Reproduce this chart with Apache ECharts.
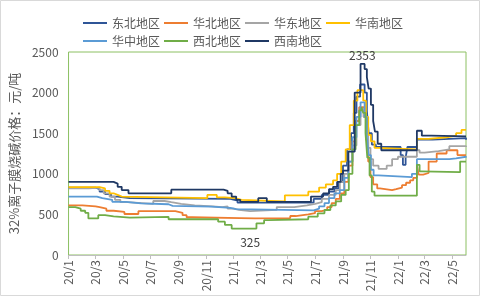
<!DOCTYPE html>
<html>
<head>
<meta charset="utf-8">
<script src="https://cdn.jsdelivr.net/npm/echarts@6/dist/echarts.min.js"></script>
<style>
  html, body { margin: 0; padding: 0; background: #ffffff; }
  #chart { width: 481px; height: 297px; }
</style>
</head>
<body>
<div id="chart"></div>
<script>
// 32% ion-membrane caustic soda prices by region (yuan/ton), change points of each price series.
const regions = ['东北地区', '华北地区', '华东地区', '华南地区', '华中地区', '西北地区', '西南地区'];

const dongbeiDates = ['2020-01-01','2020-03-01','2020-03-10','2020-03-22','2020-04-04','2020-04-19','2020-05-16','2020-12-25','2021-01-10','2021-06-28','2021-07-16','2021-08-01','2021-08-13','2021-08-22','2021-09-01','2021-09-10','2021-09-19','2021-09-25','2021-10-01','2021-10-09','2021-10-19','2021-10-24','2021-10-28','2021-11-04','2021-11-13','2022-01-07','2022-01-12','2022-01-18','2022-01-22','2022-01-27','2022-02-12','2022-03-19','2022-06-01'];
const dongbeiValues = [830,810,780,750,720,700,690,670,645,690,740,780,820,900,1100,1300,1500,1750,1950,2100,2000,1780,1500,1360,1330,1230,1110,1200,1330,1330,1420,1440,1420];

const huabeiDates = ['2020-01-01','2020-02-01','2020-03-01','2020-03-10','2020-03-25','2020-04-10','2020-05-04','2020-06-04','2020-08-25','2020-09-10','2020-09-19','2020-10-01','2021-01-16','2021-02-18','2021-05-07','2021-05-19','2021-06-16','2021-07-01','2021-07-16','2021-07-28','2021-08-07','2021-08-16','2021-08-25','2021-09-04','2021-09-13','2021-09-22','2021-09-29','2021-10-07','2021-10-17','2021-10-22','2021-10-27','2021-11-01','2021-11-07','2021-11-16','2021-11-22','2021-12-19','2021-12-28','2022-01-10','2022-01-19','2022-01-28','2022-02-04','2022-02-12','2022-02-16','2022-02-26','2022-03-10','2022-03-28','2022-04-19','2022-05-13','2022-06-01'];
const huabeiValues = [610,600,590,570,545,530,505,540,520,490,465,455,450,455,480,500,515,540,560,590,640,690,760,900,1100,1400,1650,1820,1700,1420,1150,960,870,820,800,810,830,860,890,920,950,1110,990,1010,1150,1250,1290,1230,1230];

const huadongDates = ['2020-01-01','2020-02-15','2020-03-10','2020-03-19','2020-04-01','2020-04-13','2020-04-25','2020-05-10','2020-07-07','2020-08-01','2020-08-16','2020-09-07','2020-10-07','2020-11-16','2020-12-07','2020-12-19','2021-01-01','2021-01-13','2021-02-07','2021-04-07','2021-05-16','2021-06-13','2021-07-01','2021-07-16','2021-08-01','2021-08-16','2021-08-25','2021-09-04','2021-09-13','2021-09-22','2021-10-01','2021-10-10','2021-10-17','2021-10-22','2021-10-27','2021-11-01','2021-11-07','2021-11-19','2021-12-07','2021-12-19','2022-01-01','2022-02-12','2022-02-18','2022-03-01','2022-04-01','2022-04-25','2022-06-01'];
const huadongValues = [820,830,800,760,720,680,650,630,665,650,630,610,600,590,600,570,555,540,555,590,610,630,650,690,740,800,900,1000,1150,1350,1600,1800,1700,1500,1320,1180,1100,1060,1100,1180,1210,1290,1260,1280,1300,1340,1330];

const huananDates = ['2020-01-01','2020-03-10','2020-03-22','2020-04-01','2020-04-10','2020-04-19','2020-04-28','2020-11-04','2020-11-25','2020-12-13','2021-01-04','2021-01-19','2021-04-25','2021-06-16','2021-07-10','2021-07-25','2021-08-10','2021-08-19','2021-08-28','2021-09-07','2021-09-16','2021-09-25','2021-10-03','2021-10-16','2021-10-22','2021-10-27','2021-11-02','2021-11-10','2021-11-19','2022-02-12','2022-03-10','2022-04-19','2022-05-10','2022-05-22','2022-06-01'];
const huananValues = [835,820,790,760,740,720,700,740,710,700,680,660,735,780,830,870,920,1000,1150,1300,1600,1900,2030,1900,1700,1480,1400,1320,1300,1430,1450,1470,1500,1540,1540];

const huazhongDates = ['2020-01-01','2020-03-04','2020-03-16','2020-04-07','2020-05-07','2020-06-10','2020-08-10','2020-08-19','2020-11-13','2020-12-25','2021-01-07','2021-06-28','2021-07-10','2021-07-22','2021-08-01','2021-08-13','2021-08-25','2021-09-04','2021-09-13','2021-09-22','2021-10-01','2021-10-10','2021-10-19','2021-10-24','2021-10-28','2021-11-02','2021-11-08','2021-11-19','2022-02-01','2022-02-12','2022-04-25','2022-05-10','2022-06-01'];
const huazhongValues = [720,700,680,655,635,625,605,595,580,565,550,570,600,640,700,760,800,950,1150,1450,1700,1880,1700,1450,1230,1050,980,960,1000,1180,1190,1210,1200];

const xibeiDates = ['2020-01-01','2020-01-16','2020-01-28','2020-02-07','2020-02-14','2020-03-07','2020-03-22','2020-04-10','2020-05-16','2020-08-10','2020-11-28','2020-12-13','2020-12-28','2021-02-07','2021-02-21','2021-03-10','2021-03-19','2021-06-16','2021-07-07','2021-07-22','2021-08-04','2021-08-16','2021-08-28','2021-09-07','2021-09-14','2021-09-22','2021-09-29','2021-10-07','2021-10-12','2021-10-16','2021-10-21','2021-10-25','2021-10-30','2021-11-04','2021-11-10','2022-02-12','2022-02-18','2022-02-23','2022-05-19','2022-06-01'];
const xibeiValues = [590,570,545,520,450,490,475,460,470,440,410,370,325,325,390,430,440,472,513,554,610,660,740,800,1000,1300,1600,1780,1820,1750,1500,1200,980,780,730,1110,1030,1020,1150,1150];

const xinanDates = ['2020-01-01','2020-04-10','2020-04-19','2020-04-28','2020-05-13','2020-08-16','2020-12-10','2020-12-19','2020-12-28','2021-01-07','2021-01-16','2021-02-25','2021-03-16','2021-06-22','2021-07-19','2021-08-01','2021-08-10','2021-08-19','2021-08-27','2021-09-01','2021-09-13','2021-09-27','2021-10-10','2021-10-14','2021-10-19','2021-10-24','2021-10-28','2021-11-02','2021-11-07','2021-11-11','2021-11-17','2021-11-25','2022-02-12','2022-02-23','2022-03-16','2022-06-01'];
const xinanValues = [900,880,840,800,760,805,790,760,720,680,655,700,655,720,760,810,840,900,1000,1040,1273,2000,2353,2353,2290,2190,2050,1850,1650,1520,1370,1290,1530,1470,1460,1455];

// Value labels drawn on the chart: [region, date, label side]
const valueLabels = [
  ['西南地区', '2021-10-14', 'top'],
  ['西北地区', '2021-02-07', 'bottom']
];

const xTickDates = ['2020-01-01','2020-03-01','2020-05-01','2020-07-01','2020-09-01','2020-11-01','2021-01-01','2021-03-01','2021-05-01','2021-07-01','2021-09-01','2021-11-01','2022-01-01','2022-03-01','2022-05-01'];
const xRange = ['2020-01-01', '2022-06-01'];

const seriesDates = [dongbeiDates, huabeiDates, huadongDates, huananDates, huazhongDates, xibeiDates, xinanDates];
const seriesValues = [dongbeiValues, huabeiValues, huadongValues, huananValues, huazhongValues, xibeiValues, xinanValues];
const colors = ['#2f5597', '#ed7d31', '#a5a5a5', '#ffc000', '#5b9bd5', '#70ad47', '#1f3864'];

function toTime(s) {
  const p = s.split('-').map(Number);
  return new Date(p[0], p[1] - 1, p[2]).getTime();
}

const FONT = '"Noto Sans CJK SC", "Microsoft YaHei", sans-serif';
const TEXT = '#595959';

const series = regions.map(function (name, i) {
  const data = seriesDates[i].map(function (d, j) {
    const item = { value: [toTime(d), seriesValues[i][j]] };
    valueLabels.forEach(function (lb) {
      if (lb[0] === name && lb[1] === d) {
        item.label = {
          show: true,
          position: lb[2],
          distance: lb[2] === 'top' ? 2 : 8,
          color: '#404040',
          fontSize: 12,
          fontFamily: FONT,
          formatter: function (p) { return String(p.value[1]); }
        };
      }
    });
    return item;
  });
  return {
    name: name,
    type: 'line',
    step: 'end',
    data: data,
    color: colors[i],
    symbol: 'circle',
    symbolSize: 0,
    showSymbol: true,
    lineStyle: { width: 1.8, color: colors[i] },
    emphasis: { disabled: true },
    silent: true
  };
});

const legendBase = {
  icon: 'rect',
  itemWidth: 24,
  itemHeight: 2,
  itemGap: 4,
  left: 78,
  orient: 'horizontal',
  textStyle: { color: TEXT, fontSize: 12, fontFamily: FONT },
  selectedMode: false
};

const tickValues = xTickDates.map(toTime);

const chart = echarts.init(document.getElementById('chart'), null, { renderer: 'canvas' });
chart.setOption({
  animation: false,
  backgroundColor: '#ffffff',
  textStyle: { fontFamily: FONT },
  graphic: [{
    type: 'rect',
    shape: { x: 0.5, y: 0.5, width: 479, height: 295 },
    style: { fill: 'none', stroke: '#d9d9d9', lineWidth: 1 },
    silent: true
  }],
  legend: [
    Object.assign({}, legendBase, { top: 12, data: regions.slice(0, 4) }),
    Object.assign({}, legendBase, { top: 30, data: regions.slice(4) })
  ],
  grid: {
    left: 58, right: 15, top: 52, bottom: 42,
    show: true, borderColor: '#8cc063', borderWidth: 1, backgroundColor: 'transparent'
  },
  xAxis: {
    type: 'value',
    min: toTime(xRange[0]),
    max: toTime(xRange[1]),
    axisLine: { show: true, lineStyle: { color: '#bfbfbf', width: 1 } },
    axisTick: { show: true, length: 4, lineStyle: { color: '#bfbfbf' }, customValues: tickValues },
    axisLabel: {
      rotate: 90,
      color: TEXT,
      fontSize: 12,
      fontFamily: FONT,
      margin: 5,
      customValues: tickValues,
      formatter: function (v) {
        const d = new Date(v);
        return (d.getFullYear() % 100) + '/' + (d.getMonth() + 1);
      }
    },
    splitLine: { show: false }
  },
  yAxis: {
    type: 'value',
    min: 0,
    max: 2500,
    interval: 500,
    name: '32%离子膜烧碱价格：元/吨',
    nameLocation: 'middle',
    nameGap: 40,
    nameTextStyle: { color: TEXT, fontSize: 13, fontFamily: FONT },
    axisLine: { show: false },
    axisTick: { show: false },
    axisLabel: {
      color: TEXT, fontSize: 12, fontFamily: FONT, margin: 10,
      formatter: function (v) { return String(v); }
    },
    splitLine: { show: false }
  },
  series: series
});
</script>
</body>
</html>
